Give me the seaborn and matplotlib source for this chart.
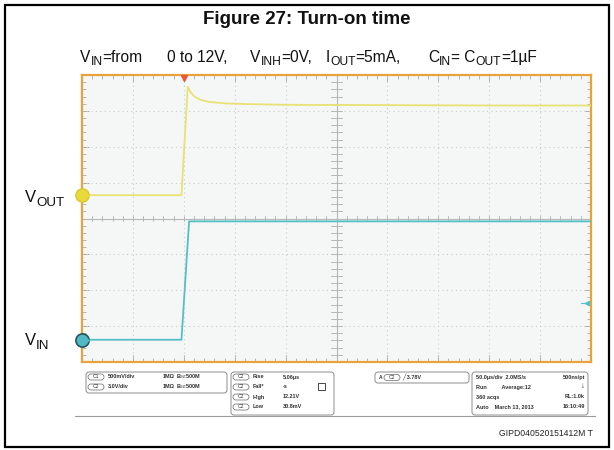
import matplotlib
matplotlib.use("Agg")
import numpy as np
import pandas as pd
import matplotlib.pyplot as plt
import seaborn as sns
from matplotlib.patches import Rectangle, FancyBboxPatch

# ---------------- data ----------------
t_vout_us = [-100, -2.3, 3.9, 6, 10, 16, 25, 40, 60, 100, 200, 300, 400]
vout_v = [0.0, 0.0, 1.51, 1.45, 1.38, 1.33, 1.30, 1.28, 1.27, 1.26, 1.255, 1.25, 1.25]
t_vin_us = [-100, -2.3, 5.2, 400]
vin_v = [0.0, 0.0, 9.9, 9.9]
trigger_level_v = 3.1

ch1_v_per_div, ch1_offset_div = 0.5, 0.65
ch2_v_per_div, ch2_offset_div = 3.0, -3.38

info_c = [("C1", "500mV/div", "1M\u03a9", "B$_W$:500M"),
          ("C2", "3.0V/div", "1M\u03a9", "B$_W$:500M")]
meas_names = ["Rise", "Fall*", "High", "Low"]
meas_vals = ["5.06\u00b5s", "-s", "12.21V", "30.8mV"]
acq_rows = [("50.0\u00b5s/div  2.0MS/s", "500ns/pt"),
            ("Run          Average:12", "\u2193"),
            ("360 acqs", "RL:1.0k"),
            ("Auto    March 13, 2013", "16:10:49")]

sns.set_theme(style="white")
plt.rcParams["font.family"] = ["Liberation Sans", "DejaVu Sans"]
plt.rcParams["mathtext.fontset"] = "custom"
plt.rcParams["mathtext.rm"] = "Liberation Sans"
plt.rcParams["mathtext.it"] = "Liberation Sans:italic"
plt.rcParams["mathtext.bf"] = "Liberation Sans:bold"

W, H = 614, 450
fig = plt.figure(figsize=(W / 100, H / 100), dpi=100)
renderer = fig.canvas.get_renderer()

# overlay in pixel coordinates
ov = fig.add_axes([0, 0, 1, 1], zorder=0)
ov.set_xlim(0, W)
ov.set_ylim(H, 0)
ov.axis("off")


def rich(x, y, parts, size, color="#111111", sub_scale=0.78, sub_drop=3.4):
    for txt, sub in parts:
        fs = size * sub_scale if sub else size
        t = ov.text(x, y + (sub_drop if sub else 0), txt, fontsize=fs,
                    ha="left", va="baseline", color=color)
        x += t.get_window_extent(renderer=renderer).width
    return x


# outer black frame
ov.add_patch(Rectangle((5, 5), 604, 442, fill=False, edgecolor="black", lw=1.6))

ov.text(307, 20, "Figure 27: Turn-on time", ha="center", va="center",
        fontsize=13.5, fontweight="bold", color="#111111")

base = 62
rich(80, base, [("V", 0), ("IN", 1), ("=from", 0)], 11.2)
rich(167, base, [("0 to 12V,", 0)], 11.2)
rich(250, base, [("V", 0), ("INH", 1), ("=0V,", 0)], 11.2)
rich(326, base, [("I", 0), ("OUT", 1), ("=5mA,", 0)], 11.2)
rich(428, base, [("C", 0), ("IN", 1), ("= C", 0), ("OUT", 1), ("=1\u00b5F", 0)], 11.2)

rich(25, 202, [("V", 0), ("OUT", 1)], 12, sub_scale=0.8, sub_drop=3.6)
rich(25, 345, [("V", 0), ("IN", 1)], 12, sub_scale=0.8, sub_drop=3.6)

# ---------------- scope axes ----------------
L, T, R, B = 82, 75, 591, 362
ax = fig.add_axes([L / W, 1 - B / H, (R - L) / W, (B - T) / H], zorder=2)
ax.set_facecolor("#f5f7f7")
ax.set_xlim(-100, 400)
ax.set_ylim(-4, 4)

df_out = pd.DataFrame({"t": t_vout_us,
                       "div": np.array(vout_v) / ch1_v_per_div + ch1_offset_div})
df_in = pd.DataFrame({"t": t_vin_us,
                      "div": np.array(vin_v) / ch2_v_per_div + ch2_offset_div})

# grid
for gx in np.arange(-50, 400, 50):
    if gx == 150:
        continue
    ax.axvline(gx, color="#c9cdcd", lw=0.8, ls=(0, (1, 3)), zorder=1)
for gy in np.arange(-3, 4, 1):
    if gy == 0:
        continue
    ax.axhline(gy, color="#c9cdcd", lw=0.8, ls=(0, (1, 3)), zorder=1)
ax.axvline(150, color="#b4b8b8", lw=0.8, zorder=1)
ax.axhline(0, color="#b4b8b8", lw=0.8, zorder=1)
# centre-line minor ticks
for mx in np.arange(-100, 400.1, 10):
    ax.plot([mx, mx], [-0.07, 0.07], color="#b4b8b8", lw=0.7, zorder=1)
for my in np.arange(-4, 4.01, 0.2):
    ax.plot([145, 155], [my, my], color="#b4b8b8", lw=0.7, zorder=1)

sns.lineplot(data=df_in, x="t", y="div", ax=ax, color="#55bfc7", lw=1.3,
             estimator=None, sort=False, zorder=4)
sns.lineplot(data=df_out, x="t", y="div", ax=ax, color="#e8e274", lw=1.3,
             estimator=None, sort=False, zorder=4)

# channel markers
ax.plot([-100], [ch1_offset_div], marker="o", ms=9.5, color="#e9da3c",
        mec="#d9c82a", clip_on=False, zorder=6)
ax.plot([-96], [ch1_offset_div], marker=">", ms=5, color="#e9da3c", clip_on=False, zorder=6)
ax.plot([-100], [ch2_offset_div], marker="o", ms=9.5, color="#52b8c2",
        mec="#24575e", mew=1.2, clip_on=False, zorder=6)
ax.plot([-96], [ch2_offset_div], marker=">", ms=5, color="#52b8c2", clip_on=False, zorder=6)
# trigger position and level markers
ax.plot([0], [3.93], marker="v", ms=5, color="#e8583a", clip_on=False, zorder=6)
ax.plot([396], [trigger_level_v / ch2_v_per_div + ch2_offset_div], marker="<", ms=3,
        color="#55bfc7", clip_on=False, zorder=6)
ax.plot([390, 396], [trigger_level_v / ch2_v_per_div + ch2_offset_div] * 2,
        color="#55bfc7", lw=0.8, zorder=6)

ax.set_xticks(np.arange(-100, 401, 50))
ax.set_yticks(np.arange(-4, 5, 1))
ax.set_xticks(np.arange(-100, 401, 10), minor=True)
ax.set_yticks(np.arange(-4, 4.01, 0.2), minor=True)
ax.tick_params(which="both", direction="in", top=True, right=True, bottom=True, left=True,
               labelbottom=False, labelleft=False, color="#a8acac")
ax.tick_params(which="major", length=5, width=0.7)
ax.tick_params(which="minor", length=3, width=0.6)
ax.set_xlabel("")
ax.set_ylabel("")
for s in ax.spines.values():
    s.set_color("#e9a33d")
    s.set_linewidth(1.6)

# ---------------- info panels ----------------
def box(x0, y0, x1, y1):
    ov.add_patch(FancyBboxPatch((x0, y0), x1 - x0, y1 - y0,
                                boxstyle="round,pad=0,rounding_size=3",
                                fill=False, edgecolor="#8c8c8c", lw=0.7))


def pill(x, y, label):
    ov.add_patch(FancyBboxPatch((x, y - 3), 16, 6, boxstyle="round,pad=0,rounding_size=3",
                                fill=False, edgecolor="#666666", lw=0.5))
    ov.text(x + 8, y, label, ha="center", va="center", fontsize=3.6, color="#333333")


fs = 4.0
tc = "#333333"
box(86, 372, 227, 393)
for i, (c, vd, imp, bw) in enumerate(info_c):
    y = 377 + 10 * i
    pill(88, y, c)
    ov.text(108, y, vd, ha="left", va="center", fontsize=fs, color=tc, fontweight="bold")
    ov.text(163, y, imp, ha="left", va="center", fontsize=fs, color=tc, fontweight="bold")
    ov.text(176, y, bw, ha="left", va="center", fontsize=fs, color=tc, fontweight="bold")

box(231, 372, 334, 415)
for i, (n, v) in enumerate(zip(meas_names, meas_vals)):
    y = 377 + 10 * i
    pill(233, y, "C2")
    ov.text(253, y, n, ha="left", va="center", fontsize=fs, color=tc, fontweight="bold")
    ov.text(283, y, v, ha="left", va="center", fontsize=fs, color=tc, fontweight="bold")
ov.add_patch(Rectangle((318, 383), 7, 7, fill=False, edgecolor="#444444", lw=0.7))

box(375, 372, 469, 383)
ov.text(381, 377.5, "A", ha="center", va="center", fontsize=3.6, color=tc, fontweight="bold")
pill(384, 377.5, "C2")
ov.text(402, 377.5, "\u2571 3.78V", ha="left", va="center", fontsize=fs, color=tc, fontweight="bold")

box(472, 372, 588, 415)
for i, (lft, rgt) in enumerate(acq_rows):
    y = 377 + 10 * i
    ov.text(476, y, lft, ha="left", va="center", fontsize=fs, color=tc, fontweight="bold")
    ov.text(585, y, rgt, ha="right", va="center", fontsize=fs if i != 1 else 5.5,
            color=tc, fontweight="bold")

ov.plot([75, 595], [416, 416], color="#9a9a9a", lw=0.8)
ov.text(593, 434, "GIPD040520151412M T", ha="right", va="center", fontsize=6.2, color="#222222")

fig.savefig("out.png", dpi=100)
